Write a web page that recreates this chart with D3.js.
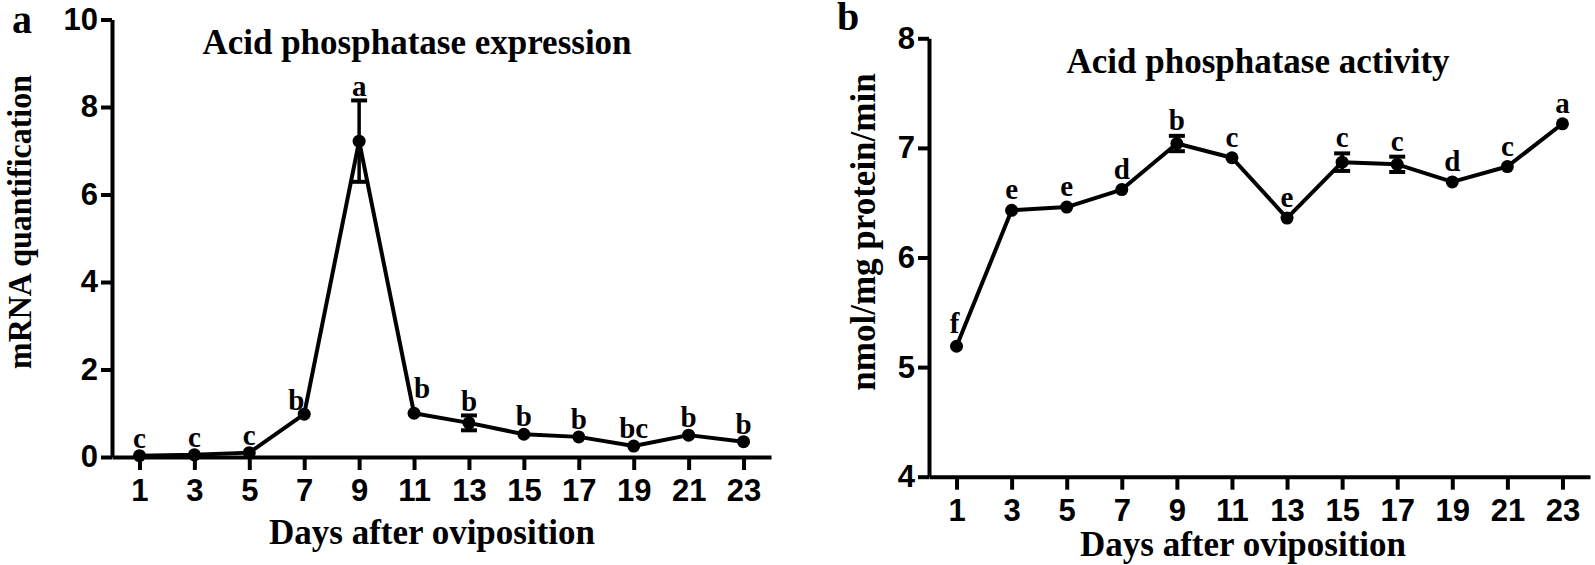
<!DOCTYPE html>
<html>
<head>
<meta charset="utf-8">
<script src="https://cdn.jsdelivr.net/npm/d3@7"></script>
<style>
    body { margin: 0; background: #fff; }
</style>
</head>
<body>
<div id="chart"></div>
<script>
// Days after oviposition (shared by both panels)
var days = [1, 3, 5, 7, 9, 11, 13, 15, 17, 19, 21, 23];

// Panel a: acid phosphatase mRNA expression
var expMean = [0.03, 0.05, 0.1, 0.98, 7.22, 1.0, 0.78, 0.52, 0.46, 0.25, 0.5, 0.35];
var expSE = [0, 0, 0, 0, 0.93, 0, 0.17, 0, 0, 0, 0, 0];
var expLetters = ["c", "c", "c", "b", "a", "b", "b", "b", "b", "bc", "b", "b"];
var expTicks = [0, 2, 4, 6, 8, 10];

// Panel b: acid phosphatase activity
var actMean = [5.19, 6.43, 6.46, 6.62, 7.04, 6.91, 6.36, 6.87, 6.85, 6.69, 6.83, 7.22];
var actSE = [0, 0, 0, 0, 0.07, 0, 0, 0.08, 0.07, 0, 0, 0];
var actLetters = ["f", "e", "e", "d", "b", "c", "e", "c", "c", "d", "c", "a"];
var actTicks = [4, 5, 6, 7, 8];

function init() {
    var w = 1595;
    var h = 565;
    var serif = "'Liberation Serif', 'Times New Roman', serif";
    var sans = "'Liberation Sans', Arial, sans-serif";

    var svg = d3.select("#chart")
        .append("svg")
        .attr("width", w)
        .attr("height", h)
        .style("background", "#fff");

    drawPanel({
        tag: "a", tagX: 12, tagY: 33,
        left: 112, right: 771, top: 19.5, bottom: 457,
        yDomain: [0, 10], yTicks: expTicks,
        mean: expMean, se: expSE, letters: expLetters,
        dotGap: 8, errGap: 4,
        nudge: { 7: [-8, 4], 11: [8, -7] },
        title: "Acid phosphatase expression", titleX: 417, titleY: 54,
        xTitleX: 432, xTitleY: 544,
        yTitle: "mRNA quantification", yTitleX: 31, yTitleY: 222, yTitleLen: 294, yTitleSize: 33
    });

    drawPanel({
        tag: "b", tagX: 837, tagY: 30,
        left: 929, right: 1590, top: 38.3, bottom: 476.7,
        yDomain: [4, 8], yTicks: actTicks,
        mean: actMean, se: actSE, letters: actLetters,
        dotGap: 11, errGap: 6,
        nudge: { 1: [-2, -2] },
        title: "Acid phosphatase activity", titleX: 1258, titleY: 73,
        xTitleX: 1243, xTitleY: 556,
        yTitle: "nmol/mg protein/min", yTitleX: 875, yTitleY: 232, yTitleLen: null, yTitleSize: 35
    });

    function drawPanel(cfg) {
        var data = days.map((d, i) => ({
            day: d,
            mean: cfg.mean[i],
            se: cfg.se[i],
            letter: cfg.letters[i]
        }));

        var xScale = d3.scaleLinear()
            .domain([0, 24])
            .range([cfg.left, cfg.right]);

        var yScale = d3.scaleLinear()
            .domain(cfg.yDomain)
            .range([cfg.bottom, cfg.top]);

        var xAxis = d3.axisBottom(xScale)
            .tickValues(days)
            .tickSize(13)
            .tickSizeOuter(0)
            .tickPadding(9);

        var yAxis = d3.axisLeft(yScale)
            .tickValues(cfg.yTicks)
            .tickFormat(d3.format("d"))
            .tickSize(11)
            .tickSizeOuter(0)
            .tickPadding(3);

        var gx = svg.append("g")
            .attr("transform", `translate(0, ${cfg.bottom})`)
            .call(xAxis);

        var gy = svg.append("g")
            .attr("transform", `translate(${cfg.left}, 0)`)
            .call(yAxis);

        [gx, gy].forEach(g => {
            g.select(".domain").attr("stroke", "#000").attr("stroke-width", 4);
            g.selectAll(".tick line").attr("stroke", "#000").attr("stroke-width", 4);
            g.selectAll(".tick text")
                .attr("fill", "#000")
                .attr("font-family", sans)
                .attr("font-weight", "bold")
                .attr("font-size", 31);
        });

        // Connecting line
        var line = d3.line()
            .x(d => xScale(d.day))
            .y(d => yScale(d.mean));

        svg.append("path")
            .datum(data)
            .attr("d", line)
            .attr("fill", "none")
            .attr("stroke", "#000")
            .attr("stroke-width", 4)
            .attr("stroke-linejoin", "round");

        // Error bars
        var errs = data.filter(d => d.se > 0);

        svg.selectAll(null)
            .data(errs)
            .enter()
            .append("line")
            .attr("x1", d => xScale(d.day))
            .attr("x2", d => xScale(d.day))
            .attr("y1", d => yScale(d.mean - d.se))
            .attr("y2", d => yScale(d.mean + d.se))
            .attr("stroke", "#000")
            .attr("stroke-width", 3.5);

        errs.forEach(d => {
            [d.mean - d.se, d.mean + d.se].forEach(v => {
                svg.append("line")
                    .attr("x1", xScale(d.day) - 8)
                    .attr("x2", xScale(d.day) + 8)
                    .attr("y1", yScale(v))
                    .attr("y2", yScale(v))
                    .attr("stroke", "#000")
                    .attr("stroke-width", 4);
            });
        });

        // Points
        svg.selectAll(null)
            .data(data)
            .enter()
            .append("circle")
            .attr("cx", d => xScale(d.day))
            .attr("cy", d => yScale(d.mean))
            .attr("r", 6.5)
            .attr("fill", "#000");

        // Significance letters
        svg.selectAll(null)
            .data(data)
            .enter()
            .append("text")
            .attr("x", d => xScale(d.day) + (cfg.nudge[d.day] ? cfg.nudge[d.day][0] : 0))
            .attr("y", d => {
                var base = d.se > 0 ? yScale(d.mean + d.se) - cfg.errGap : yScale(d.mean) - cfg.dotGap;
                return base + (cfg.nudge[d.day] ? cfg.nudge[d.day][1] : 0);
            })
            .attr("text-anchor", "middle")
            .attr("font-family", serif)
            .attr("font-weight", "bold")
            .attr("font-size", 29)
            .text(d => d.letter);

        // Panel tag
        svg.append("text")
            .attr("x", cfg.tagX)
            .attr("y", cfg.tagY)
            .attr("font-family", serif)
            .attr("font-weight", "bold")
            .attr("font-size", 40)
            .text(cfg.tag);

        // Title
        svg.append("text")
            .attr("x", cfg.titleX)
            .attr("y", cfg.titleY)
            .attr("text-anchor", "middle")
            .attr("font-family", serif)
            .attr("font-weight", "bold")
            .attr("font-size", 35)
            .text(cfg.title);

        // X axis label
        svg.append("text")
            .attr("x", cfg.xTitleX)
            .attr("y", cfg.xTitleY)
            .attr("text-anchor", "middle")
            .attr("font-family", serif)
            .attr("font-weight", "bold")
            .attr("font-size", 35)
            .text("Days after oviposition");

        // Y axis label
        var yt = svg.append("text")
            .attr("transform", `translate(${cfg.yTitleX}, ${cfg.yTitleY}) rotate(-90)`)
            .attr("text-anchor", "middle")
            .attr("font-family", serif)
            .attr("font-weight", "bold")
            .attr("font-size", cfg.yTitleSize)
            .text(cfg.yTitle);
        if (cfg.yTitleLen) {
            yt.attr("textLength", cfg.yTitleLen).attr("lengthAdjust", "spacingAndGlyphs");
        }
    }
}

window.onload = init;
</script>
</body>
</html>
